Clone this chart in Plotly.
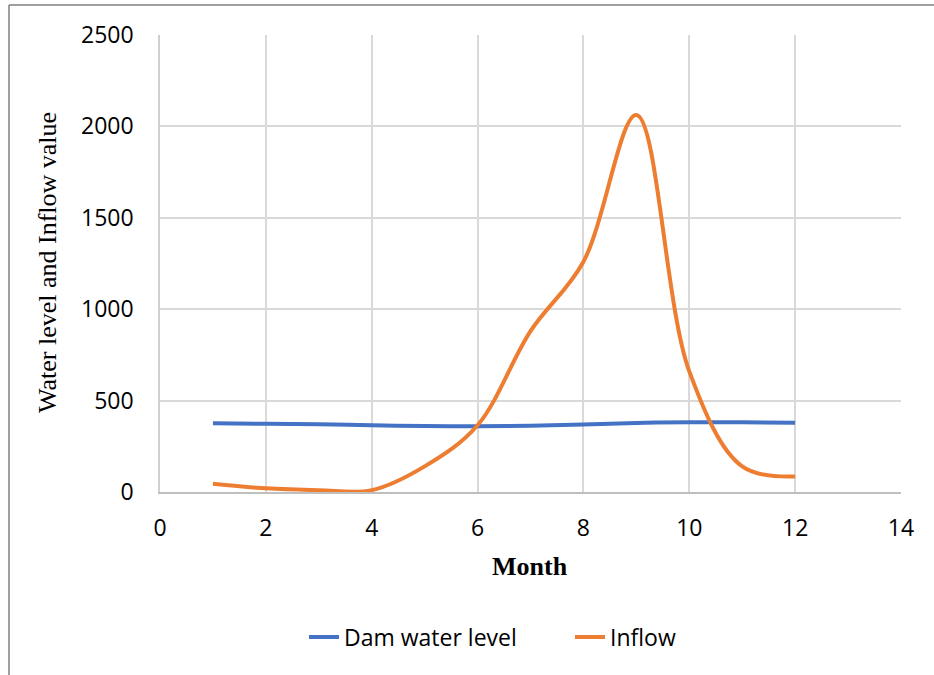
import plotly.graph_objects as go

months = [1, 2, 3, 4, 5, 6, 7, 8, 9, 10, 11, 12]
dam_water_level = [376, 373, 370, 365, 361, 360, 363, 369, 378, 382, 381, 379]
inflow = [45, 20, 10, 10, 140, 365, 880, 1260, 2062, 660, 140, 85]

x_ticks = [0, 2, 4, 6, 8, 10, 12, 14]
y_ticks = [0, 500, 1000, 1500, 2000, 2500]

W, H = 934, 675
L, R, T, B = 160, 33, 35, 183
pw, ph = W - L - R, H - T - B

def px(x):
    return (x - L) / pw

def py(y):
    return (H - B - y) / ph

tick_font = dict(family="Open Sans, Liberation Sans, sans-serif", size=23, color="#000000")

fig = go.Figure()
fig.add_trace(go.Scatter(x=months, y=dam_water_level, mode="lines", name="Dam water level",
                         line=dict(color="#4472C4", width=4, shape="spline", smoothing=1)))
fig.add_trace(go.Scatter(x=months, y=inflow, mode="lines", name="Inflow",
                         line=dict(color="#ED7D31", width=4, shape="spline", smoothing=1)))

fig.update_layout(
    width=W, height=H,
    margin=dict(l=L, r=R, t=T, b=B),
    paper_bgcolor="white", plot_bgcolor="white",
    showlegend=True,
    legend=dict(orientation="h", x=px(304), y=py(637), xanchor="left", yanchor="middle",
                font=dict(family="Open Sans, Liberation Sans, sans-serif", size=23, color="#000000"),
                bgcolor="rgba(0,0,0,0)", entrywidth=221, entrywidthmode="pixels", tracegroupgap=0),
    xaxis=dict(range=[0, 14], tickmode="array", tickvals=x_ticks, ticktext=[str(v) for v in x_ticks],
               showgrid=True, gridcolor="#d9d9d9", gridwidth=1.5, zeroline=False,
               showline=True, linecolor="#bfbfbf", linewidth=2,
               ticks="outside", ticklen=14, tickcolor="rgba(0,0,0,0)", tickfont=tick_font),
    yaxis=dict(range=[0, 2500], tickmode="array", tickvals=y_ticks, ticktext=[str(v) for v in y_ticks],
               showgrid=True, gridcolor="#d9d9d9", gridwidth=1.5, zeroline=False,
               showline=True, linecolor="#d0d0d0", linewidth=1.5,
               ticks="outside", ticklen=20, tickcolor="rgba(0,0,0,0)", tickfont=tick_font),
    annotations=[
        dict(text="<b>Month</b>", xref="paper", yref="paper", x=px(530), y=py(566),
             xanchor="center", yanchor="middle", showarrow=False,
             font=dict(family="Liberation Serif, Times New Roman, serif", size=26, color="#000000")),
        dict(text="Water level and Inflow value", xref="paper", yref="paper", x=px(47), y=py(263),
             xanchor="center", yanchor="middle", showarrow=False, textangle=-90,
             font=dict(family="Liberation Serif, Times New Roman, serif", size=26, color="#000000")),
    ],
    shapes=[
        dict(type="line", xref="paper", yref="paper", x0=px(9), x1=px(940), y0=py(5), y1=py(5),
             line=dict(color="#808080", width=1.5)),
        dict(type="line", xref="paper", yref="paper", x0=px(9), x1=px(9), y0=py(5), y1=py(680),
             line=dict(color="#808080", width=1.5)),
    ],
)

fig.write_html("out.html")
